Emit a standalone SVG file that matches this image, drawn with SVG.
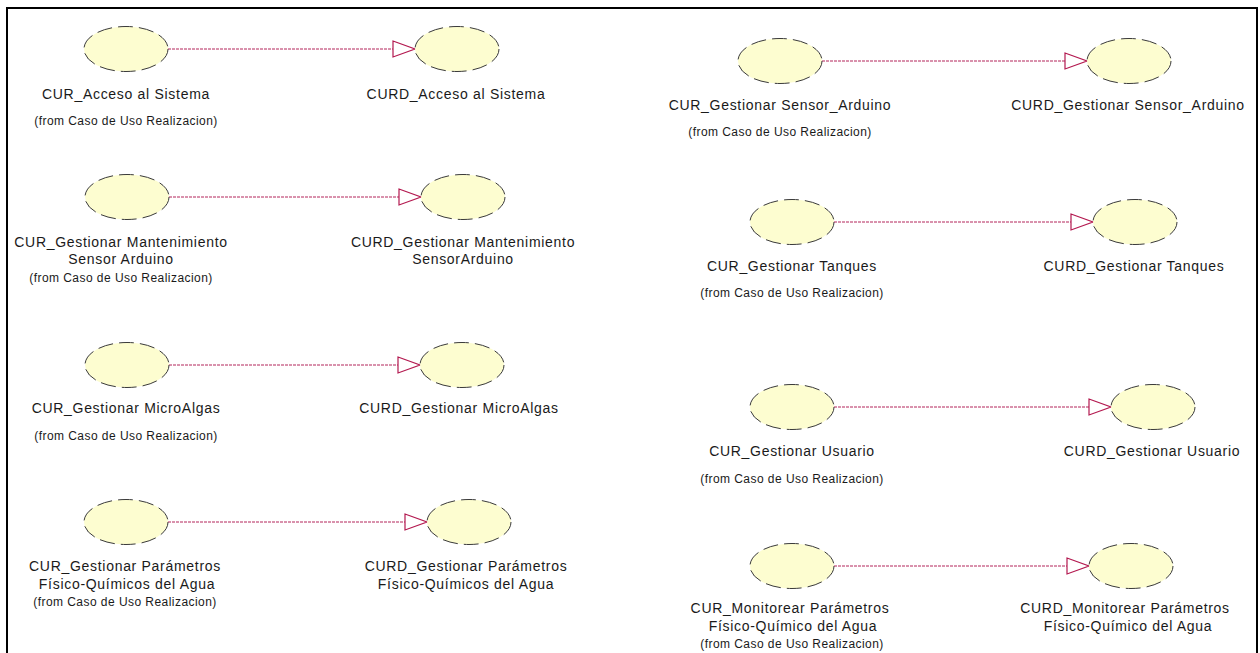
<svg xmlns="http://www.w3.org/2000/svg" width="1260" height="653" viewBox="0 0 1260 653">
<style>
.uc{fill:#fdfdd0;stroke:#3a3a3a;stroke-width:1;stroke-dasharray:15 6}
.nm{font-family:"Liberation Sans",Arial,sans-serif;font-size:14px;letter-spacing:0.7px;fill:#1a1a1a;text-anchor:middle}
.fr{font-family:"Liberation Sans",Arial,sans-serif;font-size:12px;letter-spacing:0.45px;fill:#1a1a1a;text-anchor:middle}
.ln{stroke:#b3245a;stroke-width:1;stroke-dasharray:3 1;fill:none}
.hd{fill:#ffffff;stroke:#b3184f;stroke-width:1.2}
</style>
<rect x="0" y="0" width="1260" height="653" fill="#ffffff"/>
<rect x="7" y="8" width="1250" height="680" fill="none" stroke="#000000" stroke-width="2"/>
<g id="connectors">
<line class="ln" x1="168" y1="49" x2="393" y2="49"/><polygon class="hd" points="393,41 415,49 393,57"/>
<line class="ln" x1="169" y1="197" x2="399" y2="197"/><polygon class="hd" points="399,189 421,197 399,205"/>
<line class="ln" x1="169" y1="365" x2="398" y2="365"/><polygon class="hd" points="398,357 420,365 398,373"/>
<line class="ln" x1="168" y1="522" x2="405" y2="522"/><polygon class="hd" points="405,514 427,522 405,530"/>
<line class="ln" x1="822" y1="61" x2="1065" y2="61"/><polygon class="hd" points="1065,53 1087,61 1065,69"/>
<line class="ln" x1="834" y1="222" x2="1071" y2="222"/><polygon class="hd" points="1071,214 1093,222 1071,230"/>
<line class="ln" x1="834" y1="407" x2="1089" y2="407"/><polygon class="hd" points="1089,399 1111,407 1089,415"/>
<line class="ln" x1="834" y1="566" x2="1067" y2="566"/><polygon class="hd" points="1067,558 1089,566 1067,574"/>
</g>
<g id="cur_acceso"><ellipse class="uc" cx="126" cy="49" rx="42" ry="22.5"/><text class="nm" x="126" y="99">CUR_Acceso al Sistema</text><text class="fr" x="126" y="125">(from Caso de Uso Realizacion)</text></g>
<g id="curd_acceso"><ellipse class="uc" cx="457" cy="49" rx="42" ry="22.5"/><text class="nm" x="456" y="99">CURD_Acceso al Sistema</text></g>
<g id="cur_mant"><ellipse class="uc" cx="127" cy="197" rx="42" ry="22.5"/><text class="nm" x="121" y="247">CUR_Gestionar Mantenimiento</text><text class="nm" x="121" y="264">Sensor Arduino</text><text class="fr" x="121" y="282">(from Caso de Uso Realizacion)</text></g>
<g id="curd_mant"><ellipse class="uc" cx="463" cy="197" rx="42" ry="22.5"/><text class="nm" x="463" y="247">CURD_Gestionar Mantenimiento</text><text class="nm" x="463" y="264">SensorArduino</text></g>
<g id="cur_micro"><ellipse class="uc" cx="127" cy="365" rx="42" ry="22.5"/><text class="nm" x="126" y="413">CUR_Gestionar MicroAlgas</text><text class="fr" x="126" y="440">(from Caso de Uso Realizacion)</text></g>
<g id="curd_micro"><ellipse class="uc" cx="462" cy="365" rx="42" ry="22.5"/><text class="nm" x="459" y="413">CURD_Gestionar MicroAlgas</text></g>
<g id="cur_param"><ellipse class="uc" cx="126" cy="522" rx="42" ry="22.5"/><text class="nm" x="125" y="571">CUR_Gestionar Parámetros</text><text class="nm" x="127" y="589">Físico-Químicos del Agua</text><text class="fr" x="125" y="606">(from Caso de Uso Realizacion)</text></g>
<g id="curd_param"><ellipse class="uc" cx="469" cy="522" rx="42" ry="22.5"/><text class="nm" x="466" y="571">CURD_Gestionar Parámetros</text><text class="nm" x="466" y="589">Físico-Químicos del Agua</text></g>
<g id="cur_sensor"><ellipse class="uc" cx="780" cy="61" rx="42" ry="22.5"/><text class="nm" x="780" y="110">CUR_Gestionar Sensor_Arduino</text><text class="fr" x="780" y="136">(from Caso de Uso Realizacion)</text></g>
<g id="curd_sensor"><ellipse class="uc" cx="1129" cy="61" rx="42" ry="22.5"/><text class="nm" x="1128" y="110">CURD_Gestionar Sensor_Arduino</text></g>
<g id="cur_tanques"><ellipse class="uc" cx="792" cy="222" rx="42" ry="22.5"/><text class="nm" x="792" y="271">CUR_Gestionar Tanques</text><text class="fr" x="792" y="297">(from Caso de Uso Realizacion)</text></g>
<g id="curd_tanques"><ellipse class="uc" cx="1135" cy="222" rx="42" ry="22.5"/><text class="nm" x="1134" y="271">CURD_Gestionar Tanques</text></g>
<g id="cur_usuario"><ellipse class="uc" cx="792" cy="407" rx="42" ry="22.5"/><text class="nm" x="792" y="456">CUR_Gestionar Usuario</text><text class="fr" x="792" y="483">(from Caso de Uso Realizacion)</text></g>
<g id="curd_usuario"><ellipse class="uc" cx="1153" cy="407" rx="42" ry="22.5"/><text class="nm" x="1152" y="456">CURD_Gestionar Usuario</text></g>
<g id="cur_monitor"><ellipse class="uc" cx="792" cy="566" rx="42" ry="22.5"/><text class="nm" x="790" y="613">CUR_Monitorear Parámetros</text><text class="nm" x="793" y="631">Físico-Químico del Agua</text><text class="fr" x="792" y="648">(from Caso de Uso Realizacion)</text></g>
<g id="curd_monitor"><ellipse class="uc" cx="1131" cy="566" rx="42" ry="22.5"/><text class="nm" x="1125" y="613">CURD_Monitorear Parámetros</text><text class="nm" x="1128" y="631">Físico-Químico del Agua</text></g>
</svg>
